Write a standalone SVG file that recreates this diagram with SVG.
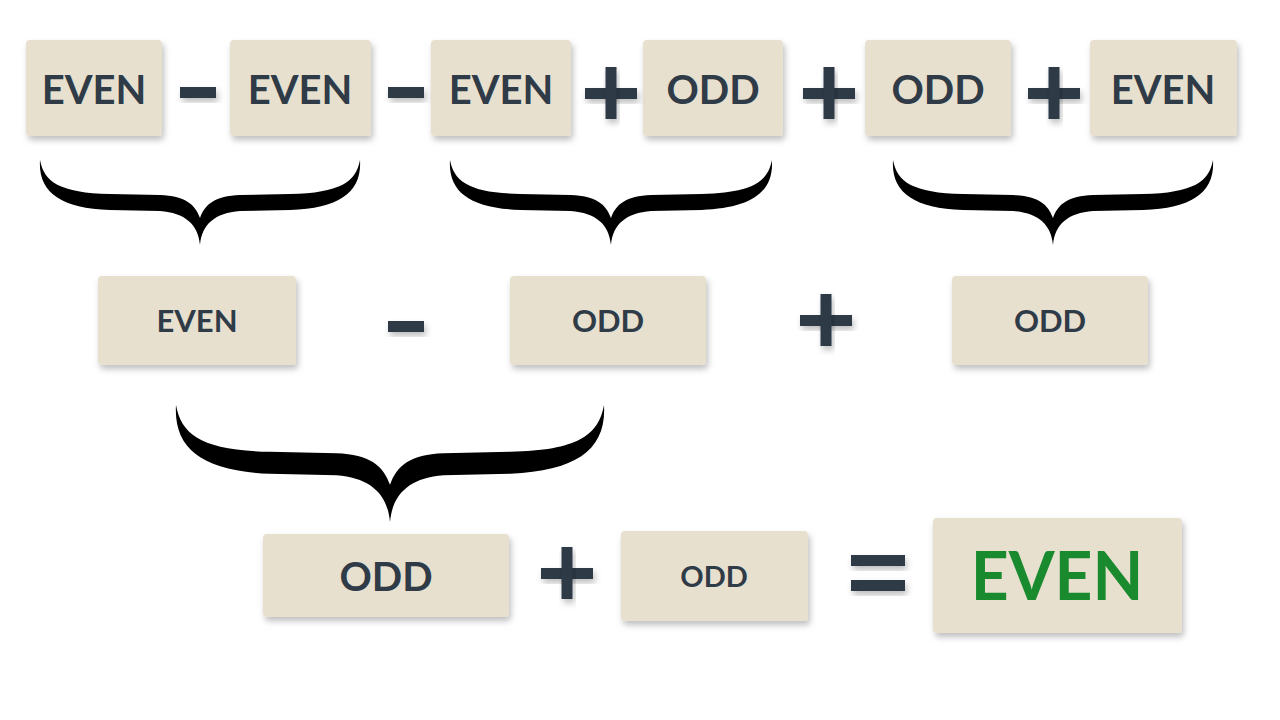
<svg xmlns="http://www.w3.org/2000/svg" width="1280" height="720" viewBox="0 0 1280 720">
<defs>
<filter id="sh" x="-20%" y="-20%" width="150%" height="160%"><feDropShadow dx="2" dy="4" stdDeviation="3" flood-color="#000" flood-opacity="0.25"/></filter>
<path id="brace" d="M0,0 C-2,32 20,48 70,50 L120,51 C145,53 158,64 160,85 C162,64 175,53 200,51 L250,50 C300,48 322,32 320,0 C316,22 300,33 250,34 L200,35 C175,36 165,44 160,58 C155,44 145,36 120,35 L70,34 C20,33 4,22 0,0 Z"/>
</defs>
<style>
.b{fill:#e8e0cf;filter:url(#sh)}
.t{font-family:Lato,"Open Sans",sans-serif;font-weight:bold;fill:#2f3b47;text-anchor:middle}
.op{fill:#2f3b47;filter:url(#sh)}
</style>
<rect width="1280" height="720" fill="#fff"/>
<g id="n1"><rect class="b" x="26" y="40" width="136" height="96" rx="4"/><text class="t" x="94" y="104" font-size="40">EVEN</text></g>
<g id="n2"><rect class="b" x="230" y="40" width="141" height="96" rx="4"/><text class="t" x="300" y="104" font-size="40">EVEN</text></g>
<g id="n3"><rect class="b" x="431" y="40" width="140" height="96" rx="4"/><text class="t" x="501" y="104" font-size="40">EVEN</text></g>
<g id="n4"><rect class="b" x="643" y="40" width="140" height="96" rx="4"/><text class="t" x="713" y="104" font-size="40">ODD</text></g>
<g id="n5"><rect class="b" x="865" y="40" width="146" height="96" rx="4"/><text class="t" x="938" y="104" font-size="40">ODD</text></g>
<g id="n6"><rect class="b" x="1090" y="40" width="147" height="96" rx="4"/><text class="t" x="1163" y="104" font-size="40">EVEN</text></g>
<g id="n7"><rect class="b" x="98" y="276" width="198" height="89" rx="4"/><text class="t" x="197" y="332" font-size="31">EVEN</text></g>
<g id="n8"><rect class="b" x="510" y="276" width="196" height="89" rx="4"/><text class="t" x="608" y="332" font-size="31">ODD</text></g>
<g id="n9"><rect class="b" x="952" y="276" width="196" height="89" rx="4"/><text class="t" x="1050" y="332" font-size="31">ODD</text></g>
<g id="n10"><rect class="b" x="263" y="534" width="246" height="83" rx="4"/><text class="t" x="386" y="591" font-size="40">ODD</text></g>
<g id="n11"><rect class="b" x="621" y="531" width="187" height="90" rx="4"/><text class="t" x="714" y="587" font-size="29">ODD</text></g>
<g id="n12"><rect class="b" x="933" y="518" width="249" height="115" rx="4"/><text class="t" x="1057" y="600" font-size="66" style="fill:#1a8a2e">EVEN</text></g>
<g id="operators">
<rect class="op" x="180" y="87" width="36" height="11"/>
<rect class="op" x="388" y="87" width="36" height="11"/>
<rect class="op" x="585" y="88" width="52" height="11"/><rect class="op" x="605.5" y="67" width="11" height="52"/>
<rect class="op" x="803" y="88" width="52" height="11"/><rect class="op" x="823.5" y="67" width="11" height="52"/>
<rect class="op" x="1028" y="88" width="52" height="11"/><rect class="op" x="1048.5" y="67" width="11" height="52"/>
<rect class="op" x="388" y="321" width="36" height="11"/>
<rect class="op" x="800" y="315" width="52" height="11"/><rect class="op" x="820.5" y="294" width="11" height="52"/>
<rect class="op" x="541" y="568" width="52" height="11"/><rect class="op" x="561.5" y="547" width="11" height="52"/>
<rect class="op" x="851" y="555" width="54" height="11"/><rect class="op" x="851" y="580" width="54" height="11"/>
</g>
<g id="connectors" fill="#000">
<use href="#brace" transform="translate(40,160) scale(1,1)"/>
<use href="#brace" transform="translate(450,160) scale(1.006,1)"/>
<use href="#brace" transform="translate(893,160) scale(1,1)"/>
<use href="#brace" transform="translate(176,405) scale(1.3375,1.376)"/>
</g>
</svg>
